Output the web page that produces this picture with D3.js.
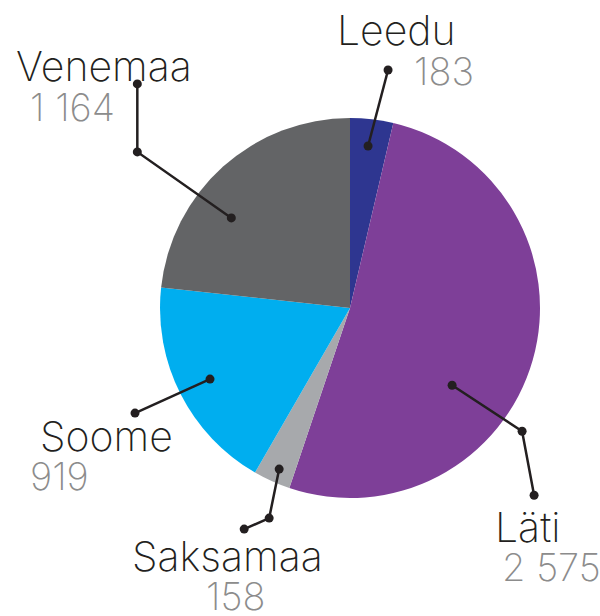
<!DOCTYPE html>
<html>
<head>
<meta charset="utf-8">
<script src="https://cdn.jsdelivr.net/npm/d3@7"></script>
<style>
  body { margin: 0; background: #fff; }
  text { font-family: Inter, Lato, sans-serif; font-weight: 200; }
</style>
</head>
<body>
<div id="chart"></div>
<script>
// data
var countries = ["Leedu", "Läti", "Saksamaa", "Soome", "Venemaa"];
var values = [183, 2575, 158, 919, 1164];
var valueLabels = ["183", "2 575", "158", "919", "1 164"];
var colors = ["#2e3690", "#7e3f98", "#a7a9ac", "#00aeef", "#636466"];

// leader line layout per slice: inner dot (angle shift, radius), then relative elbow/end points
var leaders = [
  { da: -0.004, r: 163, pts: [[20, -76]] },
  { da: 0.37, r: 128, pts: [[70, 46], [82, 110]] },
  { da: -0.01, r: 176, pts: [[-10, 49], [-35, 60]] },
  { da: 0, r: 157, pts: [[-75, 34]] },
  { da: -0.19, r: 149, pts: [[-94, -66], [-94, -134]] }
];
// label positions (name baseline, value baseline)
var labelPos = [
  { nx: 337, ny: 45, vx: 414, vy: 85 },
  { nx: 495, ny: 542, vx: 502, vy: 581 },
  { nx: 132, ny: 571, vx: 206, vy: 610 },
  { nx: 40, ny: 451, vx: 30, vy: 490 },
  { nx: 16, ny: 81, vx: 30, vy: 121 }
];

var width = 600, height = 616;
var cx = 350, cy = 308, radius = 190;

var svg = d3.select("#chart").append("svg")
  .attr("width", width)
  .attr("height", height);

var pie = d3.pie().sort(null).value(function(d) { return d; });
var arcs = pie(values);
var arc = d3.arc().innerRadius(0).outerRadius(radius);

var g = svg.append("g").attr("transform", "translate(" + cx + "," + cy + ")");

g.selectAll("path.slice")
  .data(arcs)
  .enter().append("path")
  .attr("class", "slice")
  .attr("d", arc)
  .style("fill", function(d, i) { return colors[i]; });

// leader lines
arcs.forEach(function(d, i) {
  var L = leaders[i];
  var a = (d.startAngle + d.endAngle) / 2 + L.da;
  var x0 = cx + Math.sin(a) * L.r;
  var y0 = cy - Math.cos(a) * L.r;
  var pts = [[x0, y0]];
  L.pts.forEach(function(p) { pts.push([x0 + p[0], y0 + p[1]]); });

  svg.append("path")
    .attr("d", d3.line()(pts))
    .style("fill", "none")
    .style("stroke", "#231f20")
    .style("stroke-width", 2.5);

  svg.selectAll(null)
    .data(pts)
    .enter().append("circle")
    .attr("cx", function(p) { return p[0]; })
    .attr("cy", function(p) { return p[1]; })
    .attr("r", 4.5)
    .style("fill", "#231f20");
});

// labels
labelPos.forEach(function(p, i) {
  svg.append("text")
    .attr("x", p.nx)
    .attr("y", p.ny)
    .style("font-size", "41px")
    .style("fill", "#231f20")
    .text(countries[i]);
  svg.append("text")
    .attr("x", p.vx)
    .attr("y", p.vy)
    .style("font-size", "38px")
    .style("fill", "#8c8c8c")
    .text(valueLabels[i]);
});
</script>
</body>
</html>
